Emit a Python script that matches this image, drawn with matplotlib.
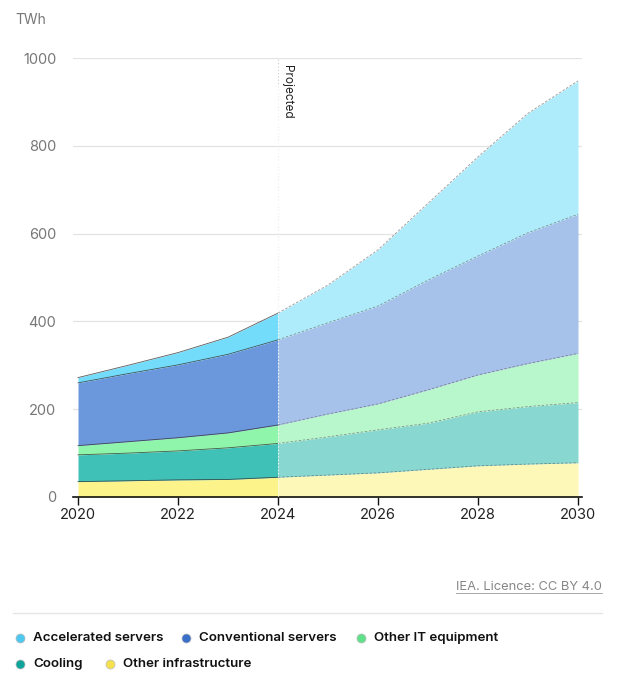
import matplotlib
matplotlib.use("Agg")
import matplotlib.pyplot as plt
import numpy as np
from matplotlib.lines import Line2D

plt.rcParams['font.family'] = ['Inter', 'DejaVu Sans']

years = [2020, 2021, 2022, 2023, 2024, 2025, 2026, 2027, 2028, 2029, 2030]
other_infra = [35, 37, 39, 40, 45, 50, 55, 63, 71, 75, 78]
cooling = [61, 63, 66, 72, 77, 87, 98, 105, 123, 131, 137]
other_it = [21, 26, 30, 34, 42, 52, 59, 76, 84, 98, 112]
conventional = [143, 155, 166, 179, 194, 208, 223, 250, 271, 298, 317]
accelerated = [12, 19, 28, 39, 61, 86, 128, 175, 226, 272, 304]

series_names = ["Other infrastructure", "Cooling", "Other IT equipment",
                "Conventional servers", "Accelerated servers"]
hist_colors = ["#fdf38b", "#3fc1b8", "#8ff5ab", "#6b98dc", "#74dcfb"]
proj_colors = ["#fef8b8", "#88d8d1", "#b8f7cb", "#a7c2ea", "#aeebfb"]
legend_colors = {"Accelerated servers": "#4dc8f0", "Conventional servers": "#3a6fc9",
                 "Other IT equipment": "#5fe08a", "Cooling": "#0fa39a",
                 "Other infrastructure": "#f5e050"}
split_year = 2024
yticks = [0, 200, 400, 600, 800, 1000]
xticks = [2020, 2022, 2024, 2026, 2028, 2030]

fig = plt.figure(figsize=(6.18, 6.86), dpi=100)
ax = fig.add_axes([73/618, 1-497/686, 509/618, 439/686])

x = np.array(years)
data = [np.array(s, float) for s in [other_infra, cooling, other_it, conventional, accelerated]]
hist = x <= split_year
proj = x >= split_year
base = np.zeros(len(x))
for s, hc, pc in zip(data, hist_colors, proj_colors):
    top = base + s
    ax.fill_between(x[hist], base[hist], top[hist], color=hc, lw=0, zorder=2)
    ax.fill_between(x[proj], base[proj], top[proj], color=pc, lw=0, zorder=2)
    ax.plot(x[hist], top[hist], color="#333333", lw=0.6, alpha=0.8, zorder=3)
    ax.plot(x[proj], top[proj], color="#555555", lw=0.6, alpha=0.6, ls=(0, (3, 2)), zorder=3)
    base = top

ax.set_xlim(2019.9, 2030.08)
ax.set_ylim(0, 1000)
ax.set_yticks(yticks)
ax.set_xticks(xticks)
ax.grid(axis='y', color="#e3e3e3", lw=0.9, zorder=0)
ax.set_axisbelow(True)
for sp in ['left', 'right', 'top']:
    ax.spines[sp].set_visible(False)
ax.spines['bottom'].set_color('#111111')
ax.spines['bottom'].set_linewidth(1.2)
ax.tick_params(axis='y', length=0, labelsize=10.5, labelcolor="#777777", pad=12)
ax.tick_params(axis='x', length=6, width=1, color='#111111', labelsize=10.5,
               labelcolor='#222222', pad=2)

ax.axvline(split_year, color="#cccccc", lw=0.8, ls=(0, (1, 2)), zorder=1)
ax.axvline(split_year, ymin=0, ymax=0.94, color="white", lw=0.8, ls=(0, (1, 2)), zorder=4)
ax.text(split_year + 0.05, 985, "Projected", rotation=-90, ha='left', va='top',
        fontsize=8.5, color="#222222")

fig.text(15/618, 1-20/686, "TWh", fontsize=10, color="#777777", va='center', ha='left')

t = fig.text(602/618, 1-587/686, "IEA. Licence: CC BY 4.0", fontsize=9.3, color="#888888",
             ha='right', va='center')
fig.canvas.draw()
bb = t.get_window_extent(renderer=fig.canvas.get_renderer()).transformed(fig.transFigure.inverted())
fig.add_artist(Line2D([bb.x0, bb.x1], [1-593/686, 1-593/686], color="#999999", lw=0.6))
fig.add_artist(Line2D([13/618, 602/618], [1-613/686, 1-613/686], color="#e6e6e6", lw=1))

legend_layout = [("Accelerated servers", 20, 638), ("Conventional servers", 186, 638),
                 ("Other IT equipment", 361, 638), ("Cooling", 20, 664),
                 ("Other infrastructure", 110, 664)]
for name, px, py in legend_layout:
    fig.add_artist(Line2D([px/618], [1-py/686], marker='o', markersize=6.5,
                          color=legend_colors[name], markeredgecolor='#bbbbbb',
                          markeredgewidth=0.5, lw=0))
    fig.text((px+13)/618, 1-py/686, name, fontsize=9.6, fontweight='semibold',
             color="#111111", va='center', ha='left')

fig.savefig("out.png", dpi=100, facecolor='white')
